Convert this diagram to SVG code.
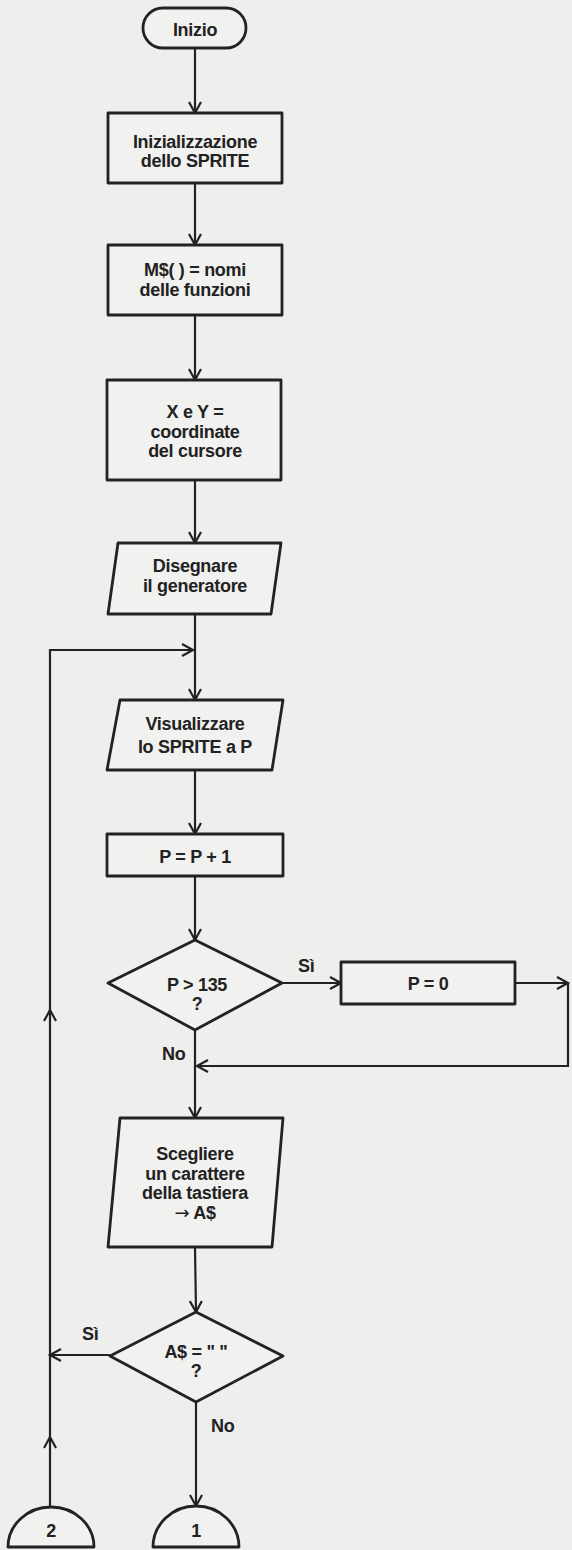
<svg xmlns="http://www.w3.org/2000/svg" width="572" height="1550" viewBox="0 0 572 1550">
<style>
.bg{fill:#eeeeec}
.shape{fill:#f1f1ef;stroke:#222;stroke-width:2.8;stroke-linejoin:round}
.t{font-family:"Liberation Sans",Arial,sans-serif;font-weight:bold;font-size:18px;fill:#222;text-anchor:middle;letter-spacing:-0.3px}
.lbl{font-family:"Liberation Sans",Arial,sans-serif;font-weight:bold;font-size:18px;fill:#222;letter-spacing:-0.3px}
.ar{font-family:"DejaVu Sans",sans-serif;font-weight:normal}
.c{fill:none;stroke:#222;stroke-width:2.2;marker-end:url(#arr)}
</style>
<defs>
<marker id="arr" markerUnits="userSpaceOnUse" markerWidth="14" markerHeight="14" refX="11" refY="6" orient="auto" overflow="visible">
<path d="M0,0 L11,6 L0,12" fill="none" stroke="#222" stroke-width="2.2"/>
</marker>
</defs>
<rect class="bg" x="0" y="0" width="572" height="1550"/>

<g id="connectors">
<line class="c" x1="195" y1="48" x2="195" y2="113"/>
<line class="c" x1="195" y1="183" x2="195" y2="245"/>
<line class="c" x1="195" y1="315" x2="195" y2="380"/>
<line class="c" x1="195" y1="480" x2="195" y2="543"/>
<line class="c" x1="195" y1="614" x2="195" y2="700"/>
<line class="c" x1="195" y1="770" x2="195" y2="834"/>
<line class="c" x1="195" y1="876" x2="195" y2="940"/>
<line class="c" x1="282" y1="983" x2="341" y2="983"/>
<line class="c" x1="515" y1="983" x2="568" y2="983"/>
<polyline class="c" points="568,983 568,1066 197,1066"/>
<line class="c" x1="195" y1="1030" x2="195" y2="1118"/>
<line class="c" x1="195" y1="1247" x2="196" y2="1312"/>
<line class="c" x1="110" y1="1355" x2="50" y2="1355"/>
<line class="c" x1="196" y1="1402" x2="196" y2="1506"/>
<line class="c" x1="50" y1="1507" x2="50" y2="1437"/>
<line class="c" x1="50" y1="1437" x2="50" y2="1010"/>
<polyline class="c" points="50,1010 50,650 193,650"/>
<text class="lbl" x="298" y="972">Sì</text>
<text class="lbl" x="162" y="1060">No</text>
<text class="lbl" x="82" y="1340">Sì</text>
<text class="lbl" x="211" y="1432">No</text>
</g>

<g id="inizio">
<rect class="shape" x="143" y="8" width="103" height="40" rx="20"/>
<text class="t" x="195" y="36">Inizio</text>
</g>

<g id="init-sprite">
<rect class="shape" x="108" y="113" width="174" height="70"/>
<text class="t" x="195" y="148">Inizializzazione</text>
<text class="t" x="195" y="167">dello SPRITE</text>
</g>

<g id="nomi-funzioni">
<rect class="shape" x="108" y="245" width="174" height="70"/>
<text class="t" x="195" y="276">M$( ) = nomi</text>
<text class="t" x="195" y="296">delle funzioni</text>
</g>

<g id="coordinate">
<rect class="shape" x="107" y="380" width="174" height="100"/>
<text class="t" x="195" y="418">X e Y =</text>
<text class="t" x="195" y="438">coordinate</text>
<text class="t" x="195" y="457">del cursore</text>
</g>

<g id="disegnare">
<polygon class="shape" points="118,543 281,543 271,614 108,614"/>
<text class="t" x="195" y="572">Disegnare</text>
<text class="t" x="195" y="592">il generatore</text>
</g>

<g id="visualizzare">
<polygon class="shape" points="120,700 283,700 272,770 107,770"/>
<text class="t" x="195" y="730">Visualizzare</text>
<text class="t" x="195" y="753">lo SPRITE a P</text>
</g>

<g id="incremento">
<rect class="shape" x="107" y="834" width="176" height="42"/>
<text class="t" x="195" y="863">P = P + 1</text>
</g>

<g id="test-p">
<polygon class="shape" points="195,940 282,983 195,1030 108,983"/>
<text class="t" x="197" y="991">P &gt; 135</text>
<text class="t" x="197" y="1010">?</text>
</g>

<g id="reset-p">
<rect class="shape" x="341" y="962" width="174" height="42"/>
<text class="t" x="428" y="990">P = 0</text>
</g>

<g id="scegliere">
<polygon class="shape" points="120,1118 283,1118 272,1247 108,1247"/>
<text class="t" x="195" y="1160">Scegliere</text>
<text class="t" x="195" y="1180">un carattere</text>
<text class="t" x="195" y="1199">della tastiera</text>
<text class="t" x="195" y="1219"><tspan class="ar">→</tspan> A$</text>
</g>

<g id="test-a">
<polygon class="shape" points="196,1312 283,1356 196,1402 110,1356"/>
<text class="t" x="196" y="1358">A$ = " "</text>
<text class="t" x="196" y="1377">?</text>
</g>

<g id="conn-2">
<path class="shape" d="M8,1547 A43,40 0 0 1 94,1547 Z"/>
<text class="t" x="51" y="1537">2</text>
</g>

<g id="conn-1">
<path class="shape" d="M153,1547 A43,41 0 0 1 239,1547 Z"/>
<text class="t" x="196" y="1537">1</text>
</g>
</svg>
